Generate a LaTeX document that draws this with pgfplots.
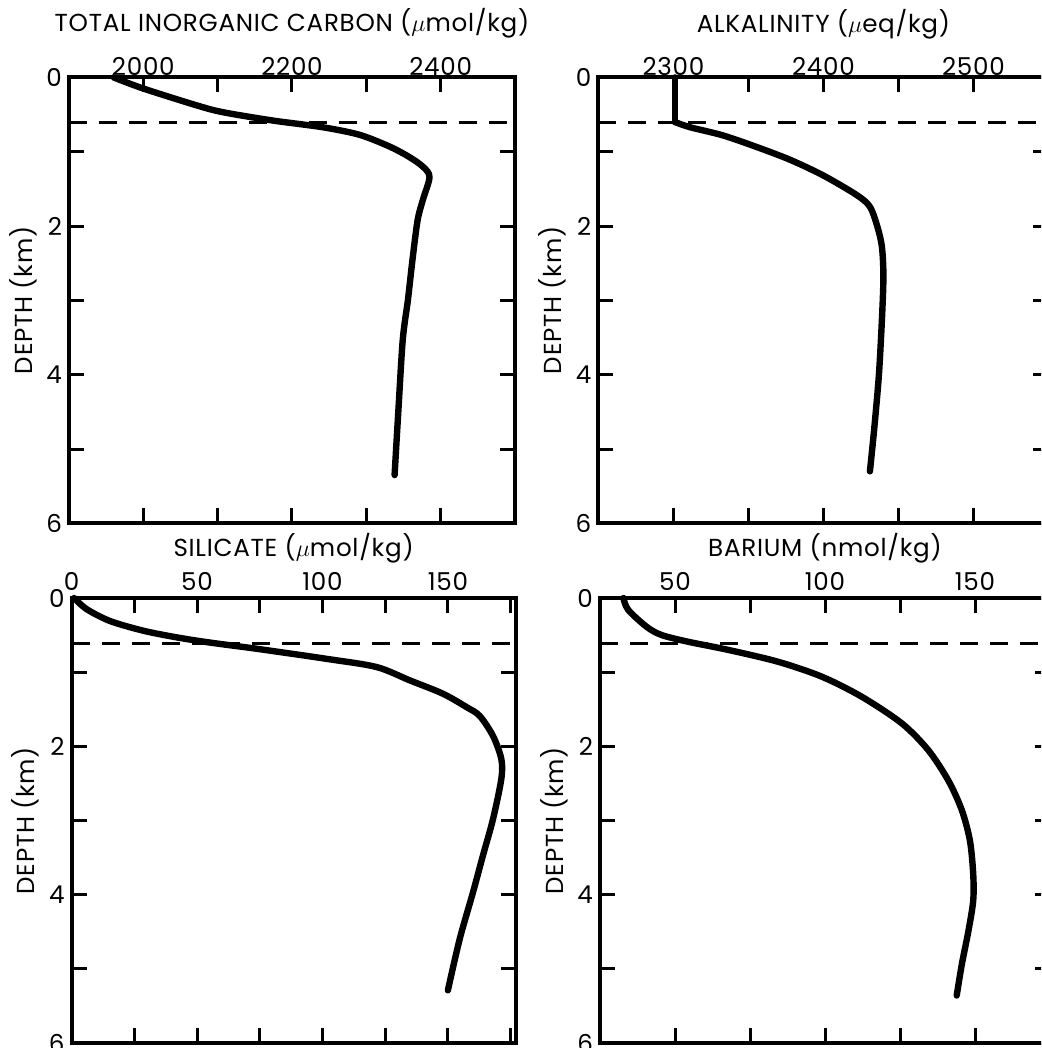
\documentclass[border=0pt]{standalone}
\usepackage{fontspec}
\setmainfont{Poppins}[LetterSpace=3]
\usepackage{pgfplots}
\pgfplotsset{compat=1.18}
\tikzset{
  curve/.style={line width=3.2pt, line join=round, line cap=round},
  mld/.style={line width=1.6pt, dash pattern=on 9pt off 6pt},
  ttl/.style={font=\fontsize{12.3}{14}\selectfont, anchor=base},
}
\pgfplotsset{
  prof/.style={
    scale only axis,
    y dir=reverse,
    ymin=0, ymax=6,
    ytick={0,1,2,3,4,5,6},
    yticklabels={0,,2,,4,,6},
    xticklabel pos=upper,
    axis line style={line width=2pt},
    tick style={line width=1.5pt, black},
    major tick length=7.5pt,
    tick align=inside,
    /pgf/number format/assume math mode=true,
    ticklabel style={font=\fontsize{12.3}{14}\selectfont},
    ylabel={DEPTH (km)},
    ylabel style={font=\fontsize{12.3}{14}\selectfont, at={(axis description cs:0,0.5)}, anchor=center, yshift=23pt},
    clip=false,
  },
}
\begin{document}
\begin{tikzpicture}
\path[use as bounding box, clip] (0,0) rectangle (520.5pt,524pt);
% Top-left: total inorganic carbon
\begin{axis}[prof, at={(34.5pt,262.3pt)}, anchor=south west, width=223pt, height=223pt,
  xmin=1900, xmax=2500, xtick={1900,2000,2100,2200,2300,2400,2500},
  xticklabels={,2000,,2200,,2400,}, xticklabel style={yshift=-2.5pt}]
\addplot[mld] coordinates {(1900,0.61) (2500,0.61)};
\addplot[curve, smooth, tension=0.5] coordinates {
(1960,0) (2000,0.15) (2073,0.38) (2108,0.47) (2174,0.58) (2241,0.67) (2290,0.77)
(2329,0.92) (2356,1.06) (2376,1.20) (2385,1.34) (2376,1.65) (2369,1.92) (2362,2.46)
(2356,2.99) (2349,3.53) (2343,4.5) (2338,5.35)};
\node[ttl] at (axis description cs:0.5,1) [yshift=23pt] {TOTAL INORGANIC CARBON ($\mu$mol/kg)};
\end{axis}
% Top-right: alkalinity
\begin{axis}[prof, at={(299.2pt,262.3pt)}, anchor=south west, width=225pt, height=223pt,
  xmin=2250, xmax=2550, xtick={2250,2300,2350,2400,2450,2500,2550},
  xticklabels={,2300,,2400,,2500,}, xticklabel style={yshift=-2.5pt}]
\addplot[mld] coordinates {(2250,0.61) (2550,0.61)};
\addplot[curve] coordinates {(2301,0) (2301,0.60)};
\addplot[curve, smooth, tension=0.5] coordinates {
(2301,0.60) (2311,0.67) (2333,0.78) (2356,0.94) (2378,1.11) (2400,1.32) (2422,1.58)
(2431,1.74) (2436,2.01) (2439,2.28) (2440,2.68) (2439,3.26) (2437,4.0) (2434,4.7) (2431,5.3)};
\node[ttl] at (axis description cs:0.5,1) [yshift=22.5pt] {ALKALINITY ($\mu$eq/kg)};
\end{axis}
% Bottom-left: silicate
\begin{axis}[prof, at={(35.8pt,2.5pt)}, anchor=south west, width=222pt, height=222.5pt,
  xmin=0, xmax=177, xtick={0,25,50,75,100,125,150,175},
  xticklabels={0,,50,,100,,150,}]
\addplot[mld] coordinates {(0,0.61) (177,0.61)};
\addplot[curve, smooth, tension=0.5] coordinates {
(1,0) (6,0.15) (15.3,0.31) (28.5,0.44) (41.8,0.53) (55,0.60) (75,0.69) (101.6,0.82)
(121.5,0.93) (134.8,1.11) (148,1.29) (157.4,1.47) (162.7,1.59) (168,1.86) (171.3,2.17)
(171.3,2.44) (168,2.98) (164,3.47) (160,3.97) (154.7,4.60) (150,5.29)};
\node[ttl] at (axis description cs:0.5,1) [yshift=21pt] {SILICATE ($\mu$mol/kg)};
\end{axis}
% Bottom-right: barium
\begin{axis}[prof, at={(300pt,2.5pt)}, anchor=south west, width=225pt, height=222.5pt,
  xmin=25, xmax=175, xtick={25,50,75,100,125,150,175},
  xticklabels={,50,,100,,150,}]
\addplot[mld] coordinates {(25,0.61) (175,0.61)};
\addplot[curve, smooth, tension=0.5] coordinates {
(32.8,0) (34.4,0.16) (40.6,0.39) (45.6,0.50) (54.4,0.59) (67.8,0.70) (84.4,0.86)
(98.9,1.06) (112.2,1.33) (125.6,1.69) (134.4,2.05) (141.1,2.46) (145.6,2.86)
(148.3,3.27) (149.4,3.72) (149.4,4.08) (147.8,4.49) (145.6,4.94) (143.9,5.36)};
\node[ttl] at (axis description cs:0.5,1) [yshift=21pt] {BARIUM (nmol/kg)};
\end{axis}
\end{tikzpicture}
\end{document}
